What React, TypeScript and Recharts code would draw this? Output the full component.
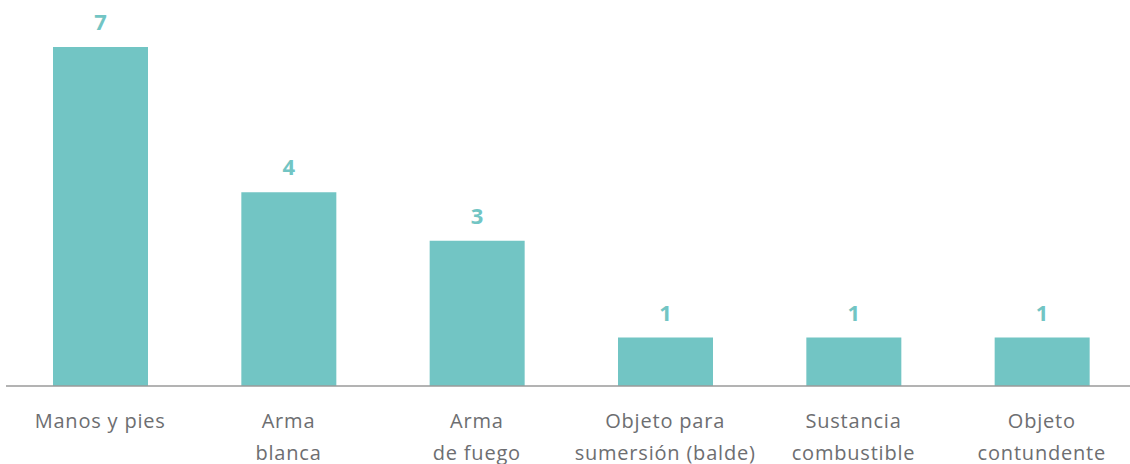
import React from "react";
import { BarChart, Bar, XAxis, YAxis, LabelList } from "recharts";

const categories = [
  "Manos y pies",
  "Arma\nblanca",
  "Arma\nde fuego",
  "Objeto para\nsumersión (balde)",
  "Sustancia\ncombustible",
  "Objeto\ncontundente",
];
const values = [7, 4, 3, 1, 1, 1];

const data = categories.map((c, i) => ({ name: c, value: values[i] }));

const FONT = "'Open Sans', 'Noto Sans', sans-serif";

const Tick = (props: any) => {
  const { x, y, payload } = props;
  const lines = String(payload.value).split("\n");
  return (
    <text
      x={x}
      y={y}
      textAnchor="middle"
      fill="#6d6e71"
      fontFamily={FONT}
      fontSize={20}
      letterSpacing={0.8}
    >
      {lines.map((l: string, i: number) => (
        <tspan key={i} x={x} y={y + 34 + i * 32}>
          {l}
        </tspan>
      ))}
    </text>
  );
};

export default function App() {
  return (
    <div
      style={{
        position: "absolute",
        left: 0,
        top: 0,
        width: 1130,
        height: 464,
        overflow: "hidden",
        background: "#fff",
      }}
    >
      <BarChart
        width={1136}
        height={464}
        data={data}
        margin={{ top: 47, right: 0, bottom: 0, left: 6 }}
        barCategoryGap={0}
      >
        <XAxis
          dataKey="name"
          axisLine={{ stroke: "#9a9a9a", strokeWidth: 1.5 }}
          tickLine={false}
          interval={0}
          height={78}
          tick={<Tick />}
        />
        <YAxis hide domain={[0, 7]} />
        <Bar
          dataKey="value"
          fill="#72c5c4"
          barSize={95}
          isAnimationActive={false}
        >
          <LabelList
            dataKey="value"
            position="top"
            offset={17}
            fill="#72c5c4"
            fontFamily={FONT}
            fontSize={22}
            fontWeight={700}
          />
        </Bar>
      </BarChart>
    </div>
  );
}
